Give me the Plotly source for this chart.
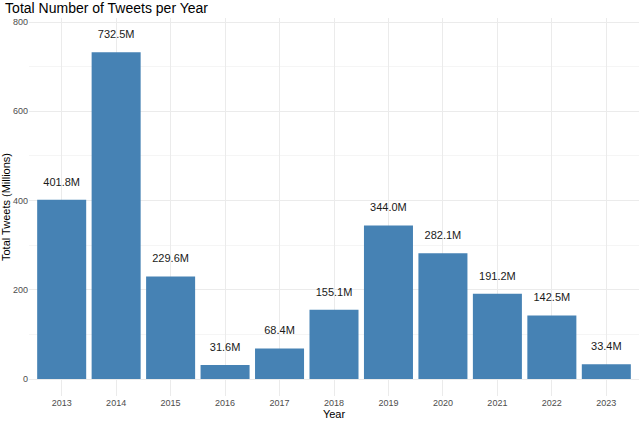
import plotly.graph_objects as go

years = ["2013", "2014", "2015", "2016", "2017", "2018", "2019", "2020", "2021", "2022", "2023"]
tweets_m = [401.8, 732.5, 229.6, 31.6, 68.4, 155.1, 344.0, 282.1, 191.2, 142.5, 33.4]
labels = [f"{v:.1f}M" for v in tweets_m]

fig = go.Figure()
fig.add_trace(go.Bar(x=years, y=tweets_m, marker_color="#4682B4",
                     marker_line_width=0, width=0.9, hoverinfo="x+y"))
# labels a bit above each bar, like geom_text(vjust = -1.5)
fig.add_trace(go.Scatter(x=years, y=[v + 38 for v in tweets_m], text=labels,
                         mode="text", textfont=dict(size=11, color="#1a1a1a"),
                         hoverinfo="skip"))

fig.update_layout(
    width=640, height=422,
    margin=dict(l=29, r=1, t=18, b=26),
    paper_bgcolor="white", plot_bgcolor="white",
    font=dict(family="Liberation Sans, Arial, sans-serif", color="#4D4D4D"),
    showlegend=False,
    bargap=0.1,
    title=dict(text="Total Number of Tweets per Year", x=0.008, xanchor="left",
               y=0.993, yanchor="top", pad=dict(t=0),
               font=dict(size=14, color="black")),
    xaxis=dict(
        title=dict(text="Year", font=dict(size=11, color="black"), standoff=2),
        type="category", range=[-0.6, 10.6], automargin=False,
        showgrid=True, gridcolor="#EBEBEB", gridwidth=1,
        tickfont=dict(size=9, color="#4D4D4D"), ticks="", zeroline=False,
    ),
    yaxis=dict(
        title=dict(text="Total Tweets (Millions)", font=dict(size=11, color="black"), standoff=2),
        range=[-38, 809], tickvals=[0, 200, 400, 600, 800], automargin=False,
        showgrid=True, gridcolor="#EBEBEB", gridwidth=1,
        minor=dict(tickvals=[100, 300, 500, 700], showgrid=True, gridcolor="#F5F5F5", gridwidth=0.6),
        tickfont=dict(size=9, color="#4D4D4D"), ticks="", zeroline=False,
    ),
)

# drop the browser's default body margin so the figure fills the window
fig.write_html("out.html", config={"displayModeBar": False},
               post_script="document.body.style.margin='0';")
